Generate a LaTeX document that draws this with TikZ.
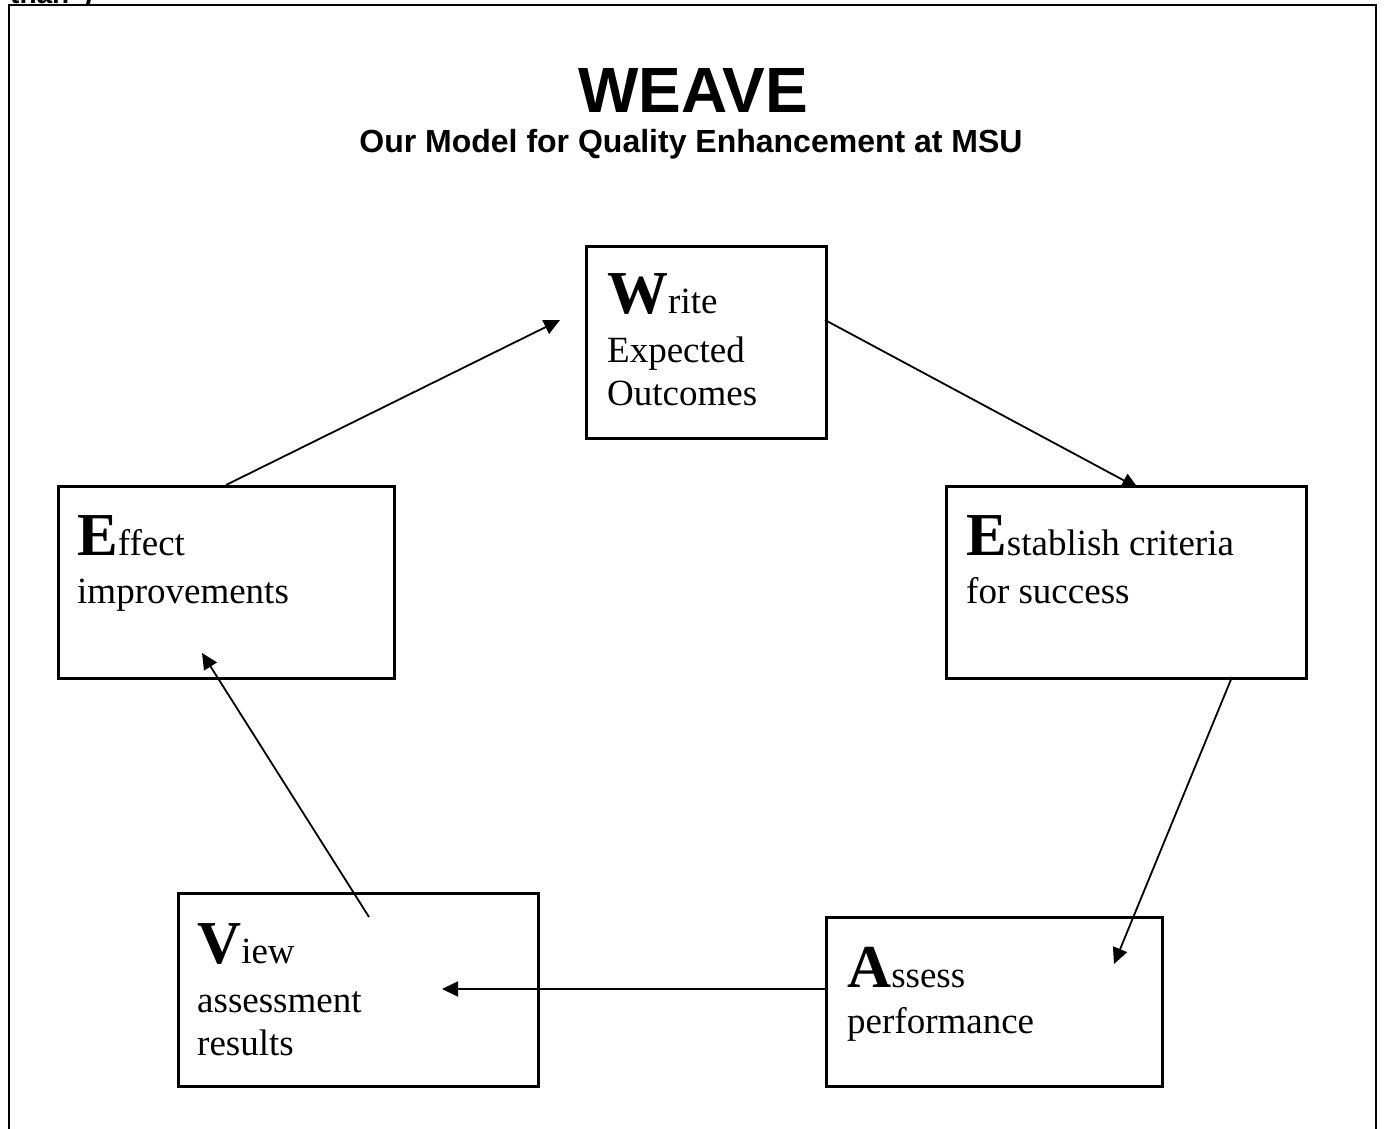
\documentclass[tikz,border=0pt]{standalone}
\usepackage{fontspec}
\setmainfont{Liberation Serif}
\newfontfamily\arialfont{Liberation Sans}
\usetikzlibrary{arrows.meta}
\newcommand{\BigCap}[1]{{\fontsize{61}{61}\selectfont\bfseries #1}}
\begin{document}
\begin{tikzpicture}[x=1pt,y=-1pt,
  box/.style={draw, line width=2.8pt, rectangle, anchor=north west, inner sep=0pt, fill=white},
  txt/.style={anchor=base west, inner sep=0pt, font=\fontsize{37}{43}\selectfont},
  arr/.style={line width=1.8pt, -{Triangle[length=16pt,width=15pt]}}]
\useasboundingbox (0,0) rectangle (1385,1129);
% outer frame (open at bottom)
\draw[line width=2pt] (9,1135) -- (9,5) -- (1376,5) -- (1376,1135);
% cut-off fragment at top
\begin{scope}
\clip (0,0) rectangle (300,5);
\node[anchor=base west, inner sep=0pt, font=\arialfont\bfseries\fontsize{28}{28}\selectfont] (frag) at (10,4) {than”)};
\end{scope}
% title
\node[anchor=base, inner sep=0pt, font=\arialfont\bfseries\fontsize{64}{64}\selectfont] (title) at (693,113) {WEAVE};
\node[anchor=base, inner sep=0pt, font=\arialfont\bfseries\fontsize{32}{32}\selectfont] (subtitle) at (691,153) {Our Model for Quality Enhancement at MSU};
% boxes
\node[box, minimum width=240pt, minimum height=192pt] (w) at (585,245) {};
\node[box, minimum width=336pt, minimum height=192pt] (eff) at (57,485) {};
\node[box, minimum width=360pt, minimum height=193pt] (view) at (177,892) {};
\node[box, minimum width=336pt, minimum height=169pt] (ass) at (825,916) {};
% connector points
\coordinate (wIn) at (560,320);
\coordinate (wOut) at (825,320);
\coordinate (estIn) at (1138,488);
\coordinate (estOut) at (1232,677);
\coordinate (assIn) at (1114,964);
\coordinate (assOut) at (825,989);
\coordinate (viewIn) at (442,989);
\coordinate (viewOut) at (369,917);
\coordinate (effIn) at (202,653);
\coordinate (effOut) at (226,485);
% W -> E (arrow partly hidden behind the box)
\draw[arr] (wOut) -- (estIn);
\node[box, minimum width=360pt, minimum height=192pt] (est) at (945,485) {};
% other connectors
\draw[arr] (effOut) -- (wIn);
\draw[arr] (estOut) -- (assIn);
\draw[arr] (assOut) -- (viewIn);
\draw[arr] (viewOut) -- (effIn);
% texts
\node[txt] (w1) at (607,313) {\BigCap{W}rite};
\node[txt] (w2) at (607,362) {Expected};
\node[txt] (w3) at (607,405) {Outcomes};
\node[txt] (e1) at (966,555) {\BigCap{E}stablish criteria};
\node[txt] (e2) at (966,603) {for success};
\node[txt] (a1) at (847,987) {\BigCap{A}ssess};
\node[txt] (a2) at (847,1033) {performance};
\node[txt] (v1) at (197,963) {\BigCap{V}iew};
\node[txt] (v2) at (197,1012) {assessment};
\node[txt] (v3) at (197,1055) {results};
\node[txt] (f1) at (77,555) {\BigCap{E}ffect};
\node[txt] (f2) at (77,603) {improvements};
\end{tikzpicture}
\end{document}
